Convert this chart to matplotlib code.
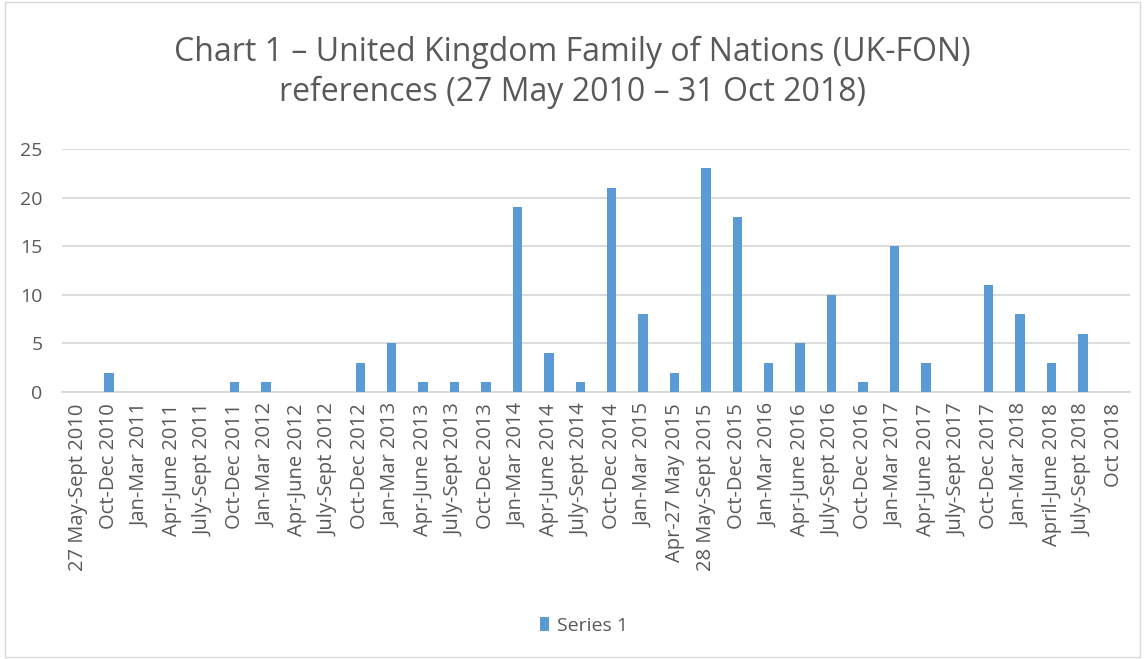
import matplotlib
matplotlib.use("Agg")
import matplotlib.pyplot as plt
from matplotlib.patches import Rectangle

periods = [
    "27 May-Sept 2010", "Oct-Dec 2010", "Jan-Mar 2011", "Apr-June 2011",
    "July-Sept 2011", "Oct-Dec 2011", "Jan-Mar 2012", "Apr-June 2012",
    "July-Sept 2012", "Oct-Dec 2012", "Jan-Mar 2013", "Apr-June 2013",
    "July-Sept 2013", "Oct-Dec 2013", "Jan-Mar 2014", "Apr-June 2014",
    "July-Sept 2014", "Oct-Dec 2014", "Jan-Mar 2015", "Apr-27 May 2015",
    "28 May-Sept 2015", "Oct-Dec 2015", "Jan-Mar 2016", "Apr-June 2016",
    "July-Sept 2016", "Oct-Dec 2016", "Jan-Mar 2017", "Apr-June 2017",
    "July-Sept 2017", "Oct-Dec 2017", "Jan-Mar 2018", "April-June 2018",
    "July-Sept 2018", "Oct 2018",
]
references = [0, 2, 0, 0, 0, 1, 1, 0, 0, 3, 5, 1, 1, 1, 19, 4, 1, 21, 8, 2,
              23, 18, 3, 5, 10, 1, 15, 3, 0, 11, 8, 3, 6, 0]
y_ticks = [0, 5, 10, 15, 20, 25]

plt.rcParams["font.family"] = ["Open Sans", "DejaVu Sans"]
text_col = "#595959"

fig = plt.figure(figsize=(11.45, 6.59), dpi=100)
ax = fig.add_axes([0.054, 0.405, 0.933, 0.369])

x = range(len(periods))
ax.bar(x, references, width=0.3, color="#5b9bd5", label="Series 1", zorder=3)

ax.set_ylim(0, 25)
ax.set_xlim(-0.5, len(periods) - 0.5)
ax.set_yticks(y_ticks, labels=[str(v) for v in y_ticks], fontsize=14, color=text_col)
ax.set_xticks(list(x))
ax.set_xticklabels(periods, rotation=90, fontsize=14.5, color=text_col)
ax.tick_params(axis="y", length=0, pad=14)
ax.tick_params(axis="x", length=0, pad=8)
ax.grid(axis="y", color="#d9d9d9", linewidth=1.3, zorder=0)
for s in ["top", "right", "left"]:
    ax.spines[s].set_visible(False)
ax.spines["bottom"].set_color("#d9d9d9")
ax.spines["bottom"].set_linewidth(1.3)

fig.suptitle("Chart 1 \u2013 United Kingdom Family of Nations (UK-FON)\n"
             "references (27 May 2010 \u2013 31 Oct 2018)",
             y=0.945, fontsize=23, color=text_col, linespacing=1.25)

fig.legend(loc="center", bbox_to_anchor=(0.51, 0.05), frameon=False,
           fontsize=14, labelcolor=text_col, handlelength=0.5, handleheight=0.7,
           handletextpad=0.4)

fig.patches.append(Rectangle((0.004, 0.003), 0.992, 0.994, transform=fig.transFigure,
                             fill=False, edgecolor="#d9d9d9", linewidth=1))

fig.savefig("out.png", dpi=100)
